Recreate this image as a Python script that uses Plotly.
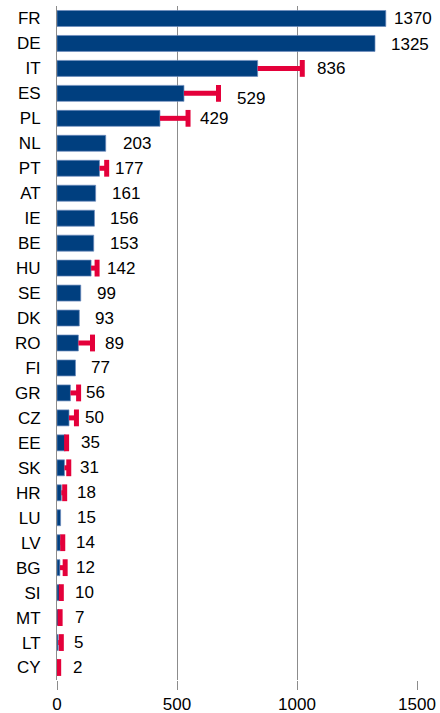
import plotly.graph_objects as go

countries = ["FR", "DE", "IT", "ES", "PL", "NL", "PT", "AT", "IE", "BE", "HU", "SE", "DK",
             "RO", "FI", "GR", "CZ", "EE", "SK", "HR", "LU", "LV", "BG", "SI", "MT", "LT", "CY"]
values = [1370, 1325, 836, 529, 429, 203, 177, 161, 156, 153, 142, 99, 93,
          89, 77, 56, 50, 35, 31, 18, 15, 14, 12, 10, 7, 5, 2]
errors = [None, None, 186, 144, 117, None, 30, None, None, None, 25, None, None,
          59, None, 34, 31, 5, 18, 14, None, 10, 22, 8, 6, 13, 5]
x_ticks = [0, 500, 1000, 1500]

# label offset styling (px from bar end), per country
label_gap = {"FR": 8, "IT": 59, "ES": 53, "PL": 40, "NL": 17, "RO": 27}
label_dy = {"ES": -5}

BLUE = "#003F7F"
RED = "#E4003A"
GRID = "#8C8C8C"
FONT = "Liberation Sans, Arial, sans-serif"

fig = go.Figure()
fig.add_trace(go.Bar(
    x=values, y=countries, orientation="h",
    marker=dict(color=BLUE, line=dict(color="rgba(110,140,190,0.7)", width=1)),
    hoverinfo="x+y", showlegend=False,
))

ex, ey, cx, cy = [], [], [], []
for c, v, e in zip(countries, values, errors):
    if e is None:
        continue
    ex += [v, v + e, None]
    ey += [c, c, None]
    cx.append(v + e)
    cy.append(c)

fig.add_trace(go.Scatter(x=ex, y=ey, mode="lines", line=dict(color=RED, width=5),
                         connectgaps=False, hoverinfo="skip", showlegend=False))
fig.add_trace(go.Scatter(x=cx, y=cy, mode="markers",
                         marker=dict(symbol="line-ns", size=12, color=RED,
                                     line=dict(color=RED, width=5)),
                         hoverinfo="skip", showlegend=False))

for c, v in zip(countries, values):
    gap = label_gap.get(c, 16)
    big = c in ("FR", "DE")
    pad = 6 if big else 1
    fig.add_annotation(
        x=v, y=c, text=str(v), showarrow=False, xanchor="left", yanchor="middle",
        xshift=gap - pad - 1, yshift=label_dy.get(c, 0) - (1 if c == "DE" else 0),
        font=dict(family=FONT, size=17, color="#000000"),
        bgcolor="white" if big else "rgba(0,0,0,0)", borderpad=pad,
    )

n = len(countries)
fig.update_layout(
    width=440, height=713,
    margin=dict(l=57, r=23, t=6, b=33),
    paper_bgcolor="white", plot_bgcolor="white",
    bargap=0.36,
    font=dict(family=FONT, size=17, color="#000000"),
    xaxis=dict(range=[0, 1500], tickvals=x_ticks, ticktext=[str(t) for t in x_ticks],
               showgrid=True, gridcolor=GRID, gridwidth=1, zeroline=False,
               showline=False, ticks="outside", ticklen=9, tickcolor=GRID,
               automargin=False,
               tickfont=dict(family=FONT, size=17, color="#000000"), fixedrange=True),
    yaxis=dict(type="category", categoryorder="array", categoryarray=countries,
               range=[n - 0.5, -0.5], showgrid=False, zeroline=False,
               showline=True, linecolor=GRID, linewidth=1, ticks="",
               ticklabelstandoff=12, automargin=False,
               tickfont=dict(family=FONT, size=17, color="#000000"), fixedrange=True),
)

fig.write_html("out.html", config={"displayModeBar": False},
               post_script="document.body.style.margin='0';")
